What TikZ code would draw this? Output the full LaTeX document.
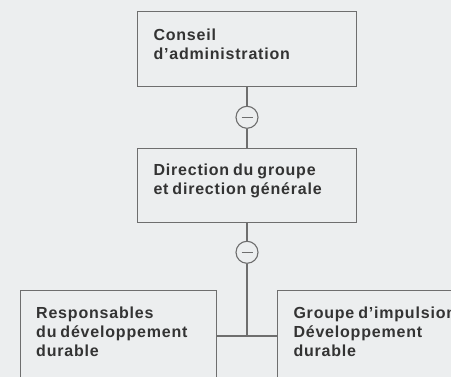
\documentclass[tikz,border=0pt]{standalone}
\usepackage{fontspec}
\setmainfont{Liberation Sans}[LetterSpace=5,WordSpace=0.75]
\begin{document}
\begin{tikzpicture}[x=1pt,y=1pt,
  ln/.style={draw=linegray,line width=1.3pt},
  box/.style={ln,rectangle,inner sep=0pt},
  lbl/.style={anchor=north west,inner sep=0pt,align=left,text=txtgray,
    font=\fontsize{16}{19}\selectfont\bfseries},
  minus/.style={draw=linegray,line width=1.1pt,circle,minimum size=22pt,inner sep=0pt,fill=bg,
    path picture={\draw[draw=linegray,line width=1.1pt]
      ([xshift=-5.5pt]path picture bounding box.center) --
      ([xshift=5.5pt]path picture bounding box.center);}}
]
\definecolor{bg}{HTML}{ECEEEF}
\definecolor{linegray}{HTML}{6E6E6E}
\definecolor{txtgray}{HTML}{333333}
\useasboundingbox[fill=bg] (0,0) rectangle (451,377);
\node[box,minimum width=219.4pt,minimum height=75pt] (ca) at (247,327.8) {};
\node[box,minimum width=219.4pt,minimum height=74.4pt] (dg) at (247,191.5) {};
\node[box,minimum width=196pt,minimum height=126.3pt] (rd) at (118.7,23.15) {};
\node[box,minimum width=222.3pt,minimum height=126.3pt] (gi) at (388.85,23.15) {};
\node[minus] (c1) at (247,259.7) {};
\node[minus] (c2) at (247,124.7) {};
\coordinate (j) at (247,41);
\draw[ln] (ca.south) -- (c1.north);
\draw[ln] (c1.south) -- (dg.north);
\draw[ln] (dg.south) -- (c2.north);
\draw[ln] (c2.south) -- (j);
\draw[ln] (rd.east |- j) -- (gi.west |- j);
\node[lbl] (tca) at (153.3,348.6) {Conseil\\d’administration};
\node[lbl] (tdg) at (153.3,212.9) {Direction du groupe\\et direction générale};
\node[lbl] (trd) at (36,70.3) {Responsables\\du développement\\durable};
\node[lbl] (tgi) at (293.3,70.3) {Groupe d’impulsion\\Développement\\durable};
\end{tikzpicture}
\end{document}
